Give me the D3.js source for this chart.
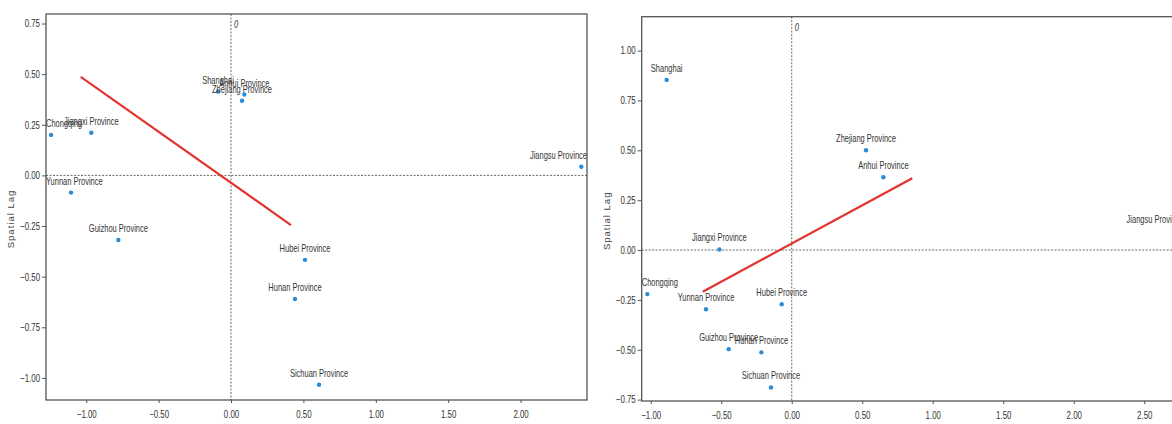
<!DOCTYPE html>
<html>
<head>
<meta charset="utf-8">
<script src="https://cdn.jsdelivr.net/npm/d3@7/dist/d3.min.js"></script>
<style>
  html, body { margin: 0; padding: 0; background: #fff; }
  svg { display: block; }
  text { font-family: "Liberation Sans", Arial, sans-serif; }
</style>
</head>
<body>
<svg id="chart" width="1172" height="424"></svg>
<script>
// ---------- DATA ----------
const leftNames = ["Chongqing", "Jiangxi Province", "Yunnan Province", "Guizhou Province",
  "Shanghai", "Anhui Province", "Zhejiang Province", "Jiangsu Province",
  "Hubei Province", "Hunan Province", "Sichuan Province"];
const leftX = [-1.243, -0.965, -1.105, -0.778, -0.09, 0.092, 0.076, 2.42, 0.511, 0.442, 0.608];
const leftY = [0.200, 0.211, -0.085, -0.319, 0.414, 0.399, 0.369, 0.043, -0.417, -0.610, -1.034];
const leftFitX = [-1.038, 0.414];
const leftFitY = [0.487, -0.245];
const leftXTicks = [-1.0, -0.5, 0.0, 0.5, 1.0, 1.5, 2.0];
const leftYTicks = [0.75, 0.5, 0.25, 0.0, -0.25, -0.5, -0.75, -1.0];

const rightNames = ["Shanghai", "Zhejiang Province", "Anhui Province", "Jiangsu Province",
  "Jiangxi Province", "Chongqing", "Yunnan Province", "Hubei Province",
  "Guizhou Province", "Hunan Province", "Sichuan Province"];
const rightX = [-0.887, 0.527, 0.650, 2.74, -0.513, -1.024, -0.608, -0.071, -0.447, -0.215, -0.147];
const rightY = [0.853, 0.500, 0.365, 0.095, 0.003, -0.221, -0.297, -0.272, -0.497, -0.513, -0.689];
const rightFitX = [-0.631, 0.855];
const rightFitY = [-0.209, 0.360];
const rightXTicks = [-1.0, -0.5, 0.0, 0.5, 1.0, 1.5, 2.0, 2.5];
const rightYTicks = [1.0, 0.75, 0.5, 0.25, 0.0, -0.25, -0.5, -0.75];

const yAxisTitle = "Spatial Lag";
const originLabel = "0";

// ---------- DRAW ----------
const svg = d3.select("#chart");
svg.append("rect").attr("width", 1172).attr("height", 424).attr("fill", "#fff");

const SX = 0.75; // horizontal text compression seen in the reference

function panel(cfg) {
  const g = svg.append("g");
  const x = d3.scaleLinear().domain(cfg.xDomain).range(cfg.xRange);
  const y = d3.scaleLinear().domain(cfg.yDomain).range(cfg.yRange);
  const [L, R] = cfg.xRange;
  const [B, T] = cfg.yRange;

  // y axis
  const yAxis = d3.axisLeft(y).tickValues(cfg.yTicks).tickFormat(d3.format(".2f"))
    .tickSize(4).tickPadding(2);
  const ya = g.append("g").attr("transform", `translate(${L},0)`).call(yAxis);
  // x axis
  const xAxis = d3.axisBottom(x).tickValues(cfg.xTicks).tickFormat(d3.format(".2f"))
    .tickSize(3).tickPadding(8);
  const xa = g.append("g").attr("transform", `translate(0,${B})`).call(xAxis);
  [ya, xa].forEach(a => {
    a.select(".domain").remove();
    a.selectAll(".tick line").attr("stroke", "#555");
    a.selectAll(".tick text").attr("fill", "#333").style("font-size", "10.5px")
      .style("font-family", "Liberation Sans, Arial, sans-serif");
  });
  // compress tick text horizontally
  ya.selectAll(".tick text").each(function () {
    const t = d3.select(this);
    const xx = +t.attr("x");
    t.attr("x", xx / SX).attr("transform", `scale(${SX},1)`);
  });
  xa.selectAll(".tick text").attr("transform", `scale(${SX},1)`);

  // frame
  g.append("rect").attr("x", L).attr("y", T).attr("width", R - L).attr("height", B - T)
    .attr("fill", "none").attr("stroke", "#555").attr("stroke-width", 1.3);

  // zero lines
  g.append("line").attr("x1", x(0)).attr("x2", x(0)).attr("y1", T).attr("y2", B)
    .attr("stroke", "#444").attr("stroke-width", 0.8).attr("stroke-dasharray", "2,1.5");
  g.append("line").attr("x1", L).attr("x2", R).attr("y1", y(0)).attr("y2", y(0))
    .attr("stroke", "#444").attr("stroke-width", 0.8).attr("stroke-dasharray", "2,1.5");
  g.append("text").attr("transform", `translate(${x(0) + 3},${T + 14}) scale(${SX},1)`)
    .attr("font-size", 10).attr("font-style", "italic").attr("fill", "#333").text(originLabel);

  // y title
  g.append("text")
    .attr("transform", `translate(${cfg.titleX},${(T + B) / 2 + 12}) rotate(-90)`)
    .attr("text-anchor", "middle").attr("font-size", 9.5).attr("letter-spacing", 1)
    .attr("fill", "#444").text(yAxisTitle);

  // regression line
  g.append("line")
    .attr("x1", x(cfg.fitX[0])).attr("y1", y(cfg.fitY[0]))
    .attr("x2", x(cfg.fitX[1])).attr("y2", y(cfg.fitY[1]))
    .attr("stroke", "#e2342f").attr("stroke-width", 2.2);

  // points
  const pts = cfg.names.map((n, i) => ({ n, vx: cfg.xs[i], vy: cfg.ys[i] }));
  g.selectAll("circle.pt").data(pts).join("circle").attr("class", "pt")
    .attr("cx", d => x(d.vx)).attr("cy", d => y(d.vy)).attr("r", 2.2)
    .attr("fill", "#2a8bd6");

  // labels
  g.selectAll("text.lbl").data(pts).join("text").attr("class", "lbl")
    .attr("font-size", 10).attr("fill", "#333").attr("text-anchor", "middle")
    .text(d => d.n)
    .each(function (d) {
      const w = this.getComputedTextLength() * SX;
      let cx = x(d.vx);
      if (cx + w / 2 > R) cx = R - w / 2;
      if (cx - w / 2 < L) cx = L + w / 2;
      d3.select(this).attr("transform", `translate(${cx},${y(d.vy) - 8}) scale(${SX},1)`);
    });
}

panel({
  names: leftNames, xs: leftX, ys: leftY, fitX: leftFitX, fitY: leftFitY,
  xTicks: leftXTicks, yTicks: leftYTicks,
  xDomain: [-1.278, 2.459], yDomain: [-1.109, 0.797],
  xRange: [46, 587], yRange: [400, 14], titleX: 14
});
panel({
  names: rightNames, xs: rightX, ys: rightY, fitX: rightFitX, fitY: rightFitY,
  xTicks: rightXTicks, yTicks: rightYTicks,
  xDomain: [-1.064, 2.78], yDomain: [-0.757, 1.170],
  xRange: [641.7, 1183.7], yRange: [401, 16.7], titleX: 610
});
</script>
</body>
</html>
